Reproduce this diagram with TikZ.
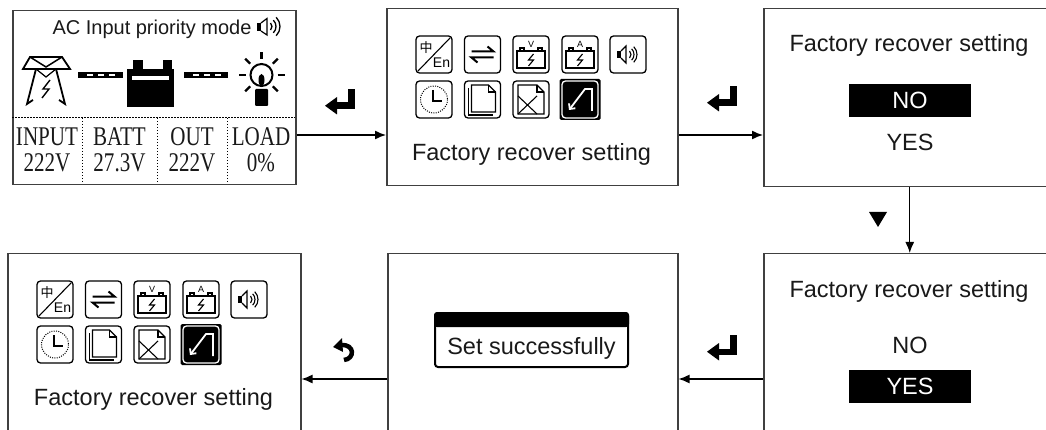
\documentclass[tikz,border=0pt]{standalone}
\usepackage{fontspec}
\setmainfont{Liberation Sans}
\newfontfamily\cjk{Noto Sans CJK SC}
\newfontfamily\lcd[FakeStretch=0.78]{Liberation Serif}
\usetikzlibrary{arrows.meta}
\newcommand{\lcdface}{\lcd\fontsize{27}{28}\selectfont}
\newcommand{\msgface}{\fontsize{23.5}{28}\selectfont}

\tikzset{
  screen/.style={draw=black!75, line width=1.5pt, anchor=north west, inner sep=0, minimum width=292pt},
  msg/.style={font=\msgface, text=black!90, inner sep=0},
  lcdtext/.style={font=\lcdface, text=black!90, inner sep=0},
  picked/.style={msg, fill=black, text=white, minimum width=122pt, minimum height=33pt},
  flow/.style={line width=1.4pt, -{Latex[length=11pt,width=9pt]}},
  icon/.style={draw, line width=1.3pt, rounded corners=3.5pt},
  glyph/.style={line width=1.1pt},
  langicon/.pic={
    \draw[icon] (0,0) rectangle (36,37);
    \draw[glyph] (2,35) -- (34,2);
    \node[inner sep=0, font=\cjk\fontsize{13}{13}\selectfont] (-zh) at (10,11.5) {中};
    \node[inner sep=0, font=\fontsize{14}{14}\selectfont] (-en) at (25.5,27) {En};
  },
  swapicon/.pic={
    \draw[icon] (0,0) rectangle (36,37);
    \draw[line width=2pt] (7,15.5) -- (29,15.5) -- (23,10.5);
    \draw[line width=2pt] (29,21.5) -- (7,21.5) -- (13,26.5);
  },
  pics/batticon/.style={code={
    \draw[icon] (0,0) rectangle (36,37);
    \draw[glyph] (4,15) rectangle (32,32);
    \draw[glyph] (7,15) |- (11,12) -- (11,15);
    \draw[glyph] (25,15) |- (29,12) -- (29,15);
    \node[inner sep=0, font=\fontsize{9}{9}\selectfont] (-unit) at (18,8) {#1};
    \draw[glyph] (20.5,18) -- (15.5,24) -- (20.5,24) -- (15.5,30);
  }},
  soundicon/.pic={
    \draw[icon] (0,0) rectangle (36,37);
    \fill (7,15) rectangle (11,22);
    \draw[glyph] (11,15) -- (16,10) -- (16,27) -- (11,22);
    \foreach \r in {5,8,11}
      \draw[glyph] (16,18.5) ++(-45:\r) arc (-45:45:\r);
  },
  clockicon/.pic={
    \draw[icon] (0,0) rectangle (36,37);
    \draw[line width=1pt, dash pattern=on 1pt off 1.3pt] (18,18.5) circle (13.5);
    \draw[line width=2.4pt] (17,9) -- (17,20) -- (26,20);
  },
  fileicon/.pic={
    \draw[icon] (0,0) rectangle (36,37);
    \draw[glyph] (4,7) -- (4,34) -- (28,34);
    \draw[glyph] (7,4) -- (24,4) -- (31,11) -- (31,31) -- (7,31) -- cycle;
    \draw[glyph] (24,4) |- (31,11);
  },
  wipeicon/.pic={
    \draw[icon] (0,0) rectangle (36,37);
    \draw[glyph] (5,4) -- (24,4) -- (31,11) -- (31,33) -- (5,33) -- cycle;
    \draw[glyph] (24,4) |- (31,11);
    \draw[glyph] (5,15) -- (24,33) (5,33) -- (24,15);
  },
  reseticon/.pic={
    \fill[rounded corners=1.5pt] (-2.5,-2) rectangle (38.5,39);
    \draw[icon, white] (0,0) rectangle (36,37);
    \draw[white, line width=1.8pt, -{Straight Barb[length=4pt,width=8pt]}] (30,30) -- (30,8) -- (23,8) -- (7,29);
  },
  menuset/.pic={
    \pic at (0,0) {langicon};
    \pic at (48.5,0) {swapicon};
    \pic at (97,0) {batticon=V};
    \pic at (146,0) {batticon=A};
    \pic at (194,0) {soundicon};
    \pic at (0,45) {clockicon};
    \pic at (48.5,45) {fileicon};
    \pic at (97,45) {wipeicon};
    \pic at (146,45) {reseticon};
  },
  enterkey/.pic={
    \fill (8,-12) rectangle (15,8);
    \fill (-4,1.5) rectangle (15,8);
    \fill (-15,4.75) -- (-3,-4) -- (-3,13.5) -- cycle;
  },
  undokey/.pic={
    \draw[line width=4.5pt] (-2,-5) .. controls (12,-6) and (12,9) .. (1,10);
    \fill (-10,-3) -- (-1,-12) -- (0,2) -- cycle;
  }
}

\begin{document}
\begin{tikzpicture}[x=1pt, y=-1pt]
\useasboundingbox (0,0) rectangle (1046,430);
\clip (0,0) rectangle (1046,430);
\coordinate (upper) at (0,135);
\coordinate (lower) at (0,379);

\node[screen, minimum width=283pt, minimum height=174pt] (home) at (12,10) {};
\node[screen, minimum width=291pt, minimum height=177pt] (menu) at (386,8) {};
\node[screen, minimum height=178pt] (ask) at (763,8) {};
\node[screen, minimum height=200pt] (confirm) at (763,253) {};
\node[screen, minimum width=290pt, minimum height=200pt] (saved) at (387,253) {};
\node[screen, minimum width=293pt, minimum height=200pt] (back) at (7,253) {};

\node[font=\fontsize{20}{24}\selectfont, text=black!90, inner sep=0] (mode) at (152,29) {AC Input priority mode};
\fill (257,23) rectangle (261,31);
\draw[line width=1.2pt] (261,23) -- (267,18.5) -- (267,35) -- (261,31);
\foreach \r in {5,9,13}
  \draw[line width=1.3pt] (267,26.5) ++(-45:\r) arc (-45:45:\r);

\draw[line width=1.8pt] (30,57) -- (62,57) -- (70,69) -- (23,69) -- cycle;
\draw[line width=1.5pt] (30,57) -- (46,67) -- (62,57);
\draw[line width=1.8pt] (36,69) -- (27,104) -- (33,100);
\draw[line width=1.8pt] (56,69) -- (65,104) -- (59,100);
\draw[line width=1.2pt] (36,69) -- (46,77) -- (56,69);
\draw[line width=1.4pt] (50,80) -- (43,89) -- (49,89) -- (42,98);

\foreach \a/\b in {78/123, 184/228} {
  \draw[line width=6pt] (\a,75) -- (\b,75);
  \foreach \k in {0,1,2}
    \fill[white] (\a+9+11*\k,73.8) rectangle (\a+15+11*\k,76.2);
}
\fill (127,69) rectangle (174,107);
\fill (133,60) rectangle (143,70);
\fill (163,60) rectangle (172,70);
\fill[white] (132,76) rectangle (169,80.5);

\draw[line width=2pt] (261.5,75) circle (11);
\fill (261.5,80) ellipse (3 and 6);
\fill[rounded corners=1pt] (255,89) rectangle (268,106);
\foreach \a in {-90,-45,-135,0,180,45,135}
  \draw[line width=2.2pt] (261.5,75) ++(\a:16) -- ++(\a:7);

\draw[line width=1pt, dash pattern=on 1.5pt off 1.5pt] (12,118) -- (295,118);
\foreach \x in {82,157,227}
  \draw[line width=1pt, dash pattern=on 1.5pt off 1.5pt] (\x,118) -- (\x,184);
\node[lcdtext] (input) at (47,137) {INPUT};
\node[lcdtext] (inputv) at (47,163) {222V};
\node[lcdtext] (batt) at (119.5,137) {BATT};
\node[lcdtext] (battv) at (119.5,163) {27.3V};
\node[lcdtext] (out) at (192,137) {OUT};
\node[lcdtext] (outv) at (192,163) {222V};
\node[lcdtext] (load) at (261,137) {LOAD};
\node[lcdtext] (loadv) at (261,163) {0\%};

\pic at (416,36) {menuset};
\node[msg] (menutext) at (531.5,154.5) {Factory recover setting};

\node[msg] (asktext) at (909,45) {Factory recover setting};
\node[picked] (askno) at (910,100.5) {NO};
\node[msg] (askyes) at (910,142) {YES};

\node[msg] (conftext) at (909,291) {Factory recover setting};
\node[msg] (confno) at (910,345) {NO};
\node[picked] (confyes) at (910,386.5) {YES};

\node[draw, line width=2pt, rounded corners=3pt, minimum width=193pt, minimum height=54pt, inner sep=0] (popup) at (531.5,340) {};
\fill[rounded corners=3pt] (popup.north west) rectangle ([yshift=-15pt]popup.north east);
\fill ([yshift=-7pt]popup.north west) rectangle ([yshift=-15pt]popup.north east);
\node[msg] (popuptext) at (531.5,348.5) {Set successfully};

\pic at (37,281) {menuset};
\node[msg] (backtext) at (153.5,399) {Factory recover setting};

\draw[flow] (home.east |- upper) -- (menu.west |- upper);
\draw[flow] (menu.east |- upper) -- (ask.west |- upper);
\draw[flow] (ask.south) -- (confirm.north);
\draw[flow] (confirm.west |- lower) -- (saved.east |- lower);
\draw[flow] (saved.west |- lower) -- (back.east |- lower);

\pic at (340,101) {enterkey};
\pic at (722,98) {enterkey};
\pic at (722,347) {enterkey};
\pic at (343,350) {undokey};
\fill (869,212) -- (887,212) -- (878,227) -- cycle;
\end{tikzpicture}
\end{document}
